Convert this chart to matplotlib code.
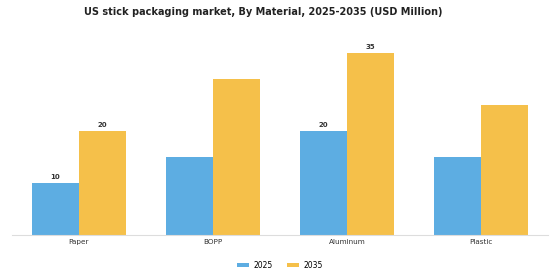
import numpy as np
import matplotlib.pyplot as plt

materials = ['Paper', 'BOPP', 'Aluminum', 'Plastic']
val_2025 = [10, 15, 20, 15]
val_2035 = [20, 30, 35, 25]
labeled = ['Paper', 'Aluminum']

c2025 = '#5DADE2'
c2035 = '#F5C04A'

fig = plt.figure(figsize=(5.6, 2.8), dpi=100)
ax = fig.add_axes([0.021, 0.161, 0.958, 0.682])

x = np.arange(len(materials))
w = 0.35
b1 = ax.bar(x - w / 2, val_2025, w, color=c2025, label='2025')
b2 = ax.bar(x + w / 2, val_2035, w, color=c2035, label='2035')

for i, m in enumerate(materials):
    if m in labeled:
        ax.text(x[i] - w / 2, val_2025[i] + 0.6, str(val_2025[i]), ha='center', va='bottom',
                fontsize=5, fontweight='bold', color='#333333')
        ax.text(x[i] + w / 2, val_2035[i] + 0.6, str(val_2035[i]), ha='center', va='bottom',
                fontsize=5, fontweight='bold', color='#333333')

ax.set_xlim(-0.5, 3.5)
ax.set_ylim(0, 36.75)
ax.set_xticks(x)
ax.set_xticklabels(materials, fontsize=5.2, color='#333333')
ax.tick_params(axis='x', length=0, pad=3)
ax.set_yticks([])
for s in ['top', 'right', 'left']:
    ax.spines[s].set_visible(False)
ax.spines['bottom'].set_color('#dddddd')
ax.spines['bottom'].set_linewidth(0.8)

fig.suptitle('US stick packaging market, By Material, 2025-2035 (USD Million)',
             x=0.47, y=0.975, fontsize=7, fontweight='bold', color='#222222')

fig.legend(handles=[b1, b2], loc='center', bbox_to_anchor=(0.5, 0.052), ncol=2,
           frameon=False, fontsize=5.5, handlelength=1.6, handleheight=0.5,
           handletextpad=0.6, columnspacing=1.8)

fig.savefig('out.png', dpi=100)
